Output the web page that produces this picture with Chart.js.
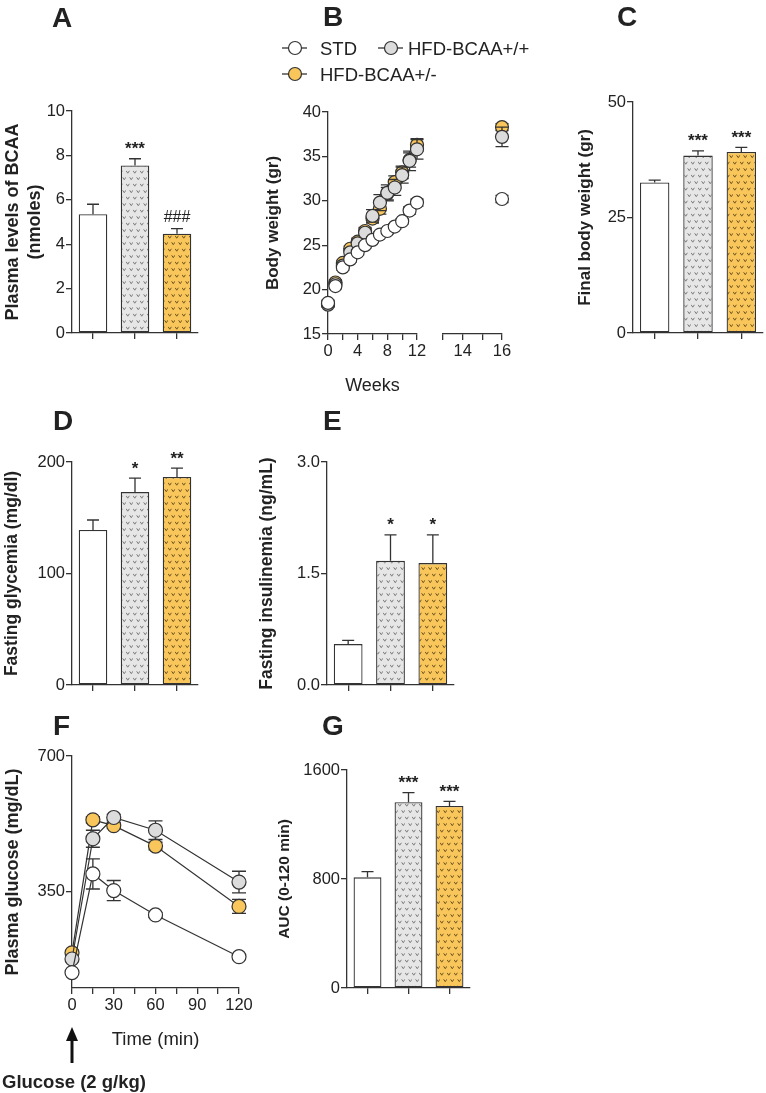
<!DOCTYPE html>
<html>
<head>
<meta charset="utf-8">
<script src="https://cdn.jsdelivr.net/npm/chart.js@4.4.1/dist/chart.umd.min.js"></script>
<style>
  html, body { margin: 0; padding: 0; background: #fff; }
  #fig { position: relative; width: 766px; height: 1093px; overflow: hidden; }
  #fig canvas { position: absolute; }
  #overlay { position: absolute; left: 0; top: 0; pointer-events: none; }
  #overlay text { font-family: "Liberation Sans", Arial, Helvetica, sans-serif; fill: #222; }
</style>
</head>
<body>
<div id="fig">
  <canvas id="chartA"></canvas>
  <canvas id="chartB1"></canvas>
  <canvas id="chartB2"></canvas>
  <canvas id="chartC"></canvas>
  <canvas id="chartD"></canvas>
  <canvas id="chartE"></canvas>
  <canvas id="chartF"></canvas>
  <canvas id="chartG"></canvas>
  <svg id="overlay" width="766" height="1093"></svg>
</div>
<script>
Chart.defaults.font.family = '"Liberation Sans", Arial, Helvetica, sans-serif';
Chart.defaults.color = '#222';
Chart.defaults.animation = false;
Chart.defaults.events = [];
Chart.defaults.plugins.legend.display = false;
Chart.defaults.plugins.tooltip.enabled = false;

const groups = ['STD', 'HFD-BCAA+/+', 'HFD-BCAA+/-'];

// A - plasma BCAA
const bcaaMean = [5.35, 7.55, 4.47];
const bcaaSem = [0.45, 0.30, 0.23];
const bcaaSig = ['', '***', '###'];
const bcaaTicks = [0, 2, 4, 6, 8, 10];

// B - body weight curve
const weeks = [0, 1, 2, 3, 4, 5, 6, 7, 8, 9, 10, 11, 12];
const weightStd = [18.5, 20.4, 22.5, 23.4, 24.2, 25.0, 25.6, 26.2, 26.6, 27.1, 27.7, 28.9, 29.8];
const weightStdSem = [0.3, 0.3, 0.3, 0.3, 0.3, 0.3, 0.3, 0.3, 0.3, 0.3, 0.3, 0.4, 0.4];
const weightPlus = [18.3, 20.6, 22.7, 24.2, 25.2, 26.4, 28.3, 29.8, 30.9, 31.5, 32.9, 34.5, 35.8];
const weightPlusSem = [0.3, 0.3, 0.3, 0.4, 0.4, 0.5, 0.7, 0.9, 0.9, 0.9, 0.9, 1.1, 1.1];
const weightHet = [18.4, 20.8, 23.0, 24.6, 25.4, 26.6, 28.0, 29.1, 30.8, 32.1, 33.2, 34.6, 36.3];
const weightHetSem = [0.3, 0.3, 0.3, 0.3, 0.4, 0.4, 0.5, 0.6, 0.7, 0.7, 0.7, 0.8, 0.7];
const lateWeeks = [16];
const lateStd = [30.2];
const lateStdSem = [0.4];
const latePlus = [37.2];
const latePlusSem = [1.1];
const lateHet = [38.3];
const lateHetSem = [0.4];
const weekTicks = [0, 2, 4, 6, 8, 10, 12];
const lateWeekTicks = [13, 14, 15, 16];
const weightTicks = [15, 20, 25, 30, 35, 40];

// C - final body weight
const finalMean = [32.6, 38.4, 39.2];
const finalSem = [0.5, 1.0, 1.0];
const finalSig = ['', '***', '***'];
const finalTicks = [0, 25, 50];

// D - fasting glycemia
const glyMean = [139, 173, 186.5];
const glySem = [9, 12.5, 8];
const glySig = ['', '*', '**'];
const glyTicks = [0, 100, 200];

// E - fasting insulinemia
const insMean = [0.55, 1.67, 1.64];
const insSem = [0.05, 0.35, 0.38];
const insSig = ['', '*', '*'];
const insTicks = [0, 1.5, 3.0];

// F - glucose tolerance test
const gttTimes = [0, 15, 30, 60, 120];
const gttStd = [140, 395, 352, 289, 181];
const gttStdSem = [4, 39, 26, 6, 6];
const gttPlus = [175, 486, 541, 508, 374];
const gttPlusSem = [6, 22, 8, 24, 28];
const gttHet = [191, 535, 520, 467, 311];
const gttHetSem = [6, 8, 8, 10, 18];
const gttTicks = [350, 700];
const timeTicks = [0, 15, 30, 45, 60, 75, 90, 105, 120];

// G - AUC
const aucMean = [812, 1363, 1336];
const aucSem = [42, 71, 34];
const aucSig = ['', '***', '***'];
const aucTicks = [0, 800, 1600];

const INK = '#333';
const YELLOW = '#f8c65a';
const GREY = '#dcdcdc';
const FONT = '"Liberation Sans", Arial, Helvetica, sans-serif';

// small "v" hatch like the original bars
function makePattern(bg, fg) {
  const c = document.createElement('canvas');
  c.width = 7; c.height = 13;
  const g = c.getContext('2d');
  g.fillStyle = bg;
  g.fillRect(0, 0, 7, 13);
  g.strokeStyle = fg;
  g.lineWidth = 1;
  const v = (x, y) => {
    g.beginPath();
    g.moveTo(x - 1.6, y - 1.2);
    g.lineTo(x, y + 1.2);
    g.lineTo(x + 1.6, y - 1.2);
    g.stroke();
  };
  v(1.75, 3);
  v(5.25, 9.5);
  return g.createPattern(c, 'repeat');
}
const greyFill = makePattern('#e6e6e6', '#7a7a7a');
const yellowFill = makePattern(YELLOW, '#6e5320');

function drawErrors(chart, idx, meta, opts) {
  const ds = chart.data.datasets[idx];
  if (!ds.errors) return;
  const y = chart.scales.y;
  const ctx = chart.ctx;
  const cap = opts.cap || 12;
  ctx.save();
  ctx.strokeStyle = INK;
  ctx.lineWidth = 1.3;
  meta.data.forEach((el, i) => {
    const e = ds.errors[i];
    if (!e) return;
    const v = meta.controller.getParsed(i).y;
    const hi = y.getPixelForValue(v + e);
    const lo = opts.both ? y.getPixelForValue(v - e) : el.y;
    ctx.beginPath();
    ctx.moveTo(el.x, lo);
    ctx.lineTo(el.x, hi);
    ctx.moveTo(el.x - cap / 2, hi);
    ctx.lineTo(el.x + cap / 2, hi);
    if (opts.both) {
      ctx.moveTo(el.x - cap / 2, lo);
      ctx.lineTo(el.x + cap / 2, lo);
    }
    ctx.stroke();
  });
  ctx.restore();
}

const errorBars = {
  id: 'errorBars',
  beforeDatasetDraw(chart, args, opts) { if (opts.both) drawErrors(chart, args.index, args.meta, opts); },
  afterDatasetDraw(chart, args, opts) { if (!opts.both) drawErrors(chart, args.index, args.meta, opts); }
};

const sigMarks = {
  id: 'sigMarks',
  afterDatasetsDraw(chart, args, opts) {
    const ctx = chart.ctx;
    const y = chart.scales.y;
    chart.data.datasets.forEach((ds, di) => {
      if (!ds.marks) return;
      const meta = chart.getDatasetMeta(di);
      ctx.save();
      ctx.fillStyle = '#222';
      ctx.textAlign = 'center';
      ctx.textBaseline = 'alphabetic';
      meta.data.forEach((el, i) => {
        const t = ds.marks[i];
        if (!t) return;
        ctx.font = t.includes('#') ? '16px ' + FONT : 'bold 17px ' + FONT;
        const top = y.getPixelForValue(ds.data[i] + (ds.errors ? ds.errors[i] : 0));
        const m = ctx.measureText(t);
        const mid = (m.actualBoundingBoxAscent - m.actualBoundingBoxDescent) / 2;
        ctx.fillText(t, el.x, top - (opts.gap || 13) + mid);
      });
      ctx.restore();
    });
  }
};

Chart.register(errorBars, sigMarks);

function frame(id, f) {
  const c = document.getElementById(id);
  const w = f.yW + (f.r - f.l) + f.padR;
  const h = f.padT + (f.b - f.t) + f.xH;
  c.width = w;
  c.height = h;
  c.style.left = (f.l - f.yW) + 'px';
  c.style.top = (f.t - f.padT) + 'px';
  c.style.width = w + 'px';
  c.style.height = h + 'px';
  return c;
}

function axisLines(extra) {
  return {
    grid: Object.assign({ display: true, drawOnChartArea: false, drawTicks: true, tickLength: 6, color: INK, lineWidth: 1.3 }, extra || {}),
    border: { display: true, color: INK, width: 1.3 }
  };
}

function yAxis(f, ticks, title, size, digits) {
  const lh = size * 1.2;
  return Object.assign(axisLines(), {
    min: ticks[0],
    max: ticks[ticks.length - 1],
    afterBuildTicks: s => { s.ticks = ticks.map(v => ({ value: v })); },
    ticks: { padding: 1, autoSkip: false, font: { size: 16.5 }, callback: v => v.toFixed(digits) },
    title: {
      display: true, text: title, color: '#222',
      font: { size: size, weight: 'bold', lineHeight: 1.2 },
      padding: { top: f.titleX - (f.l - f.yW) - lh / 2, bottom: 0 }
    },
    afterFit: s => { s.width = f.yW; }
  });
}

function barPanel(id, f, mean, sem, sig, ticks, title, size, digits) {
  new Chart(frame(id, f), {
    type: 'bar',
    data: {
      labels: groups,
      datasets: [{
        data: mean, errors: sem, marks: sig,
        backgroundColor: ['#ffffff', greyFill, yellowFill],
        borderColor: INK, borderWidth: 1.3, borderSkipped: false,
        barPercentage: 0.68, categoryPercentage: 1
      }]
    },
    options: {
      responsive: false,
      layout: { padding: { top: f.padT, right: f.padR, left: 0, bottom: 0 } },
      scales: {
        x: Object.assign(axisLines({ offset: false }), {
          ticks: { display: false },
          afterFit: s => { s.height = f.xH; }
        }),
        y: yAxis(f, ticks, title, size, digits)
      },
      plugins: { errorBars: { both: false, cap: 12 }, sigMarks: { gap: 13 } }
    }
  });
}

function pointSet(label, xs, ys, errs, fill, radius, line) {
  return {
    label: label,
    data: xs.map((x, i) => ({ x: x, y: ys[i] })),
    errors: errs,
    showLine: line,
    borderColor: INK, borderWidth: 1.2, tension: 0, fill: false,
    pointRadius: radius, pointBorderWidth: 1.2,
    pointBorderColor: INK, pointBackgroundColor: fill,
    clip: false
  };
}

// A
barPanel('chartA', { l: 72, r: 198, t: 111, b: 333, yW: 72, padT: 20, padR: 10, xH: 20, titleX: 13 },
  bcaaMean, bcaaSem, bcaaSig, bcaaTicks, ['Plasma levels of BCAA', '(nmoles)'], 18, 0);

// B, weeks 0-12
const fB1 = { l: 328, r: 417, t: 112, b: 334, yW: 73, padT: 20, padR: 20, xH: 66, titleX: 273 };
new Chart(frame('chartB1', fB1), {
  type: 'scatter',
  data: {
    datasets: [
      pointSet(groups[0], weeks, weightStd, weightStdSem, '#ffffff', 6.5, false),
      pointSet(groups[1], weeks, weightPlus, weightPlusSem, GREY, 6.5, false),
      pointSet(groups[2], weeks, weightHet, weightHetSem, YELLOW, 6.5, false)
    ]
  },
  options: {
    responsive: false,
    layout: { padding: { top: fB1.padT, right: fB1.padR, left: 0, bottom: 0 } },
    scales: {
      x: Object.assign(axisLines(), {
        type: 'linear', min: weekTicks[0], max: weekTicks[weekTicks.length - 1],
        afterBuildTicks: s => { s.ticks = weekTicks.map(v => ({ value: v })); },
        ticks: { padding: 2, autoSkip: false, font: { size: 16.5 }, maxRotation: 0, callback: v => (v % 4 === 0 ? v : '') },
        title: { display: true, text: 'Weeks', color: '#222', font: { size: 18, lineHeight: 1.2 }, padding: { top: 0, bottom: 3.2 } },
        afterFit: s => { s.height = fB1.xH; }
      }),
      y: yAxis(fB1, weightTicks, 'Body weight (gr)', 17, 0)
    },
    plugins: { errorBars: { both: true, cap: 13 }, sigMarks: false }
  }
});

// B, week 16 after the axis break
const fB2 = { l: 443, r: 502, t: 112, b: 334, yW: 10, padT: 20, padR: 15, xH: 30 };
new Chart(frame('chartB2', fB2), {
  type: 'scatter',
  data: {
    datasets: [
      pointSet(groups[0], lateWeeks, lateStd, lateStdSem, '#ffffff', 6.5, false),
      pointSet(groups[1], lateWeeks, latePlus, latePlusSem, GREY, 6.5, false),
      pointSet(groups[2], lateWeeks, lateHet, lateHetSem, YELLOW, 6.5, false)
    ]
  },
  options: {
    responsive: false,
    layout: { padding: { top: fB2.padT, right: fB2.padR, left: fB2.yW, bottom: 0 } },
    scales: {
      x: Object.assign(axisLines(), {
        type: 'linear', min: lateWeekTicks[0], max: lateWeekTicks[lateWeekTicks.length - 1],
        afterBuildTicks: s => { s.ticks = lateWeekTicks.map(v => ({ value: v })); },
        ticks: { padding: 2, autoSkip: false, font: { size: 16.5 }, maxRotation: 0, callback: v => (v % 2 === 0 ? v : '') },
        afterFit: s => { s.height = fB2.xH; }
      }),
      y: { display: false, min: weightTicks[0], max: weightTicks[weightTicks.length - 1] }
    },
    plugins: { errorBars: { both: true, cap: 13 }, sigMarks: false }
  }
});

// C
barPanel('chartC', { l: 633, r: 763, t: 102, b: 333, yW: 68, padT: 20, padR: 3, xH: 20, titleX: 585 },
  finalMean, finalSem, finalSig, finalTicks, 'Final body weight (gr)', 17, 0);

// D
barPanel('chartD', { l: 72, r: 198, t: 462, b: 685, yW: 72, padT: 20, padR: 10, xH: 20, titleX: 12 },
  glyMean, glySem, glySig, glyTicks, 'Fasting glycemia (mg/dl)', 17.5, 0);

// E
barPanel('chartE', { l: 327, r: 454, t: 462, b: 685, yW: 77, padT: 20, padR: 10, xH: 20, titleX: 267 },
  insMean, insSem, insSig, insTicks, 'Fasting insulinemia (ng/mL)', 17.5, 1);

// F
const glucoseArrow = {
  id: 'glucoseArrow',
  afterDraw(chart) {
    const ctx = chart.ctx;
    const x0 = chart.scales.x.getPixelForValue(gttTimes[0]);
    const base = chart.chartArea.bottom;
    ctx.save();
    ctx.strokeStyle = '#111';
    ctx.fillStyle = '#111';
    ctx.lineWidth = 3;
    ctx.beginPath();
    ctx.moveTo(x0, base + 50);
    ctx.lineTo(x0, base + 75);
    ctx.stroke();
    ctx.beginPath();
    ctx.moveTo(x0, base + 39);
    ctx.lineTo(x0 - 6, base + 53);
    ctx.lineTo(x0 + 6, base + 53);
    ctx.closePath();
    ctx.fill();
    ctx.font = 'bold 18.5px ' + FONT;
    ctx.fillStyle = '#222';
    ctx.textAlign = 'left';
    ctx.textBaseline = 'alphabetic';
    ctx.fillText('Glucose (2 g/kg)', 2, base + 100);
    ctx.restore();
  }
};

const fF = { l: 72, r: 239, t: 756, b: 988, yW: 72, padT: 20, padR: 20, xH: 105, titleX: 13 };
new Chart(frame('chartF', fF), {
  type: 'line',
  data: {
    datasets: [
      pointSet(groups[0], gttTimes, gttStd, gttStdSem, '#ffffff', 7, true),
      pointSet(groups[1], gttTimes, gttPlus, gttPlusSem, GREY, 7, true),
      pointSet(groups[2], gttTimes, gttHet, gttHetSem, YELLOW, 7, true)
    ]
  },
  options: {
    responsive: false,
    layout: { padding: { top: fF.padT, right: fF.padR, left: 0, bottom: 0 } },
    scales: {
      x: Object.assign(axisLines(), {
        type: 'linear', min: timeTicks[0], max: timeTicks[timeTicks.length - 1],
        afterBuildTicks: s => { s.ticks = timeTicks.map(v => ({ value: v })); },
        ticks: { padding: 2, autoSkip: false, font: { size: 16.5 }, maxRotation: 0, callback: v => (v % 30 === 0 ? v : '') },
        title: { display: true, text: 'Time (min)', color: '#222', font: { size: 18.5, lineHeight: 1.2 }, padding: { top: 0, bottom: 41.9 } },
        afterFit: s => { s.height = fF.xH; }
      }),
      y: Object.assign(yAxis(fF, gttTicks, 'Plasma glucose (mg/dL)', 18, 0), { min: 100 })
    },
    plugins: { errorBars: { both: true, cap: 14 }, sigMarks: false }
  },
  plugins: [glucoseArrow]
});

// G
barPanel('chartG', { l: 347, r: 470, t: 770, b: 988, yW: 82, padT: 20, padR: 10, xH: 20, titleX: 285 },
  aucMean, aucSem, aucSig, aucTicks, 'AUC (0-120 min)', 15.5, 0);

// panel letters and shared legend
const svg = document.getElementById('overlay');
const NS = 'http://www.w3.org/2000/svg';
function add(tag, attrs, text) {
  const el = document.createElementNS(NS, tag);
  for (const k in attrs) el.setAttribute(k, attrs[k]);
  if (text) el.textContent = text;
  svg.appendChild(el);
  return el;
}
const letters = [['A', 52, 27], ['B', 323, 26], ['C', 617, 26], ['D', 53, 430], ['E', 323, 430], ['F', 53, 735], ['G', 322, 735]];
letters.forEach(([t, x, y]) => add('text', { x: x, y: y, 'font-size': 28, 'font-weight': 'bold' }, t));

const legendItems = [
  { name: groups[0], fill: '#ffffff', cx: 295, cy: 48, tx: 320 },
  { name: groups[1], fill: GREY, cx: 391, cy: 48, tx: 408 },
  { name: groups[2], fill: YELLOW, cx: 295, cy: 74, tx: 320 }
];
legendItems.forEach(it => {
  add('line', { x1: it.cx - 13, y1: it.cy, x2: it.cx + 12, y2: it.cy, stroke: INK, 'stroke-width': 1.3 });
  add('circle', { cx: it.cx, cy: it.cy, r: 6.5, fill: it.fill, stroke: INK, 'stroke-width': 1.2 });
  add('text', { x: it.tx, y: it.cy + 7, 'font-size': 18.5 }, it.name);
});
</script>
</body>
</html>
